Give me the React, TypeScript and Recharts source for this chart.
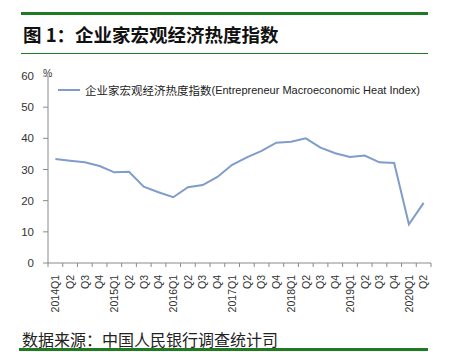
import React from 'react';
import { LineChart, Line, XAxis, YAxis, Legend } from 'recharts';

const quarters = ['2014Q1','Q2','Q3','Q4','2015Q1','Q2','Q3','Q4','2016Q1','Q2','Q3','Q4','2017Q1','Q2','Q3','Q4','2018Q1','Q2','Q3','Q4','2019Q1','Q2','Q3','Q4','2020Q1','Q2'];
const heatIndex = [33.4,32.8,32.3,31.1,29.1,29.3,24.5,22.7,21.1,24.3,25.0,27.6,31.5,33.9,36.0,38.6,38.9,40.0,37.0,35.2,34.0,34.5,32.3,32.1,12.4,19.3];
const yTicks = [0,10,20,30,40,50,60];
const seriesNameZh = '企业家宏观经济热度指数';
const seriesNameEn = '(Entrepreneur Macroeconomic Heat Index)';
const seriesName = seriesNameZh + seriesNameEn;
const titleText = '图 1：企业家宏观经济热度指数';
const sourceText = '数据来源：中国人民银行调查统计司';

const data = quarters.map((q, i) => ({ idx: i, label: q, value: heatIndex[i] }));
const xTicks: number[] = [];
for (let i = -0.5; i <= quarters.length - 0.5 + 1e-9; i += 0.5) xTicks.push(i);

const GREEN = '#1f7a22';
const AXIS = '#8a8a8a';
const LINE = '#7f9ccb';

const XTick = (props: any) => {
  const { x, y, payload } = props;
  const v = payload.value as number;
  if (Math.abs(v - Math.round(v)) > 0.1) {
    return <line x1={x} y1={y} x2={x} y2={y + 4} stroke={AXIS} strokeWidth={1} />;
  }
  const lbl = quarters[Math.round(v)];
  if (lbl === undefined) return null;
  return (
    <text
      x={x + 3.8}
      y={y + 12}
      transform={`rotate(-90, ${x + 3.8}, ${y + 12})`}
      textAnchor="end"
      fontSize={10.5}
      fontFamily="'Liberation Sans', Arial, sans-serif"
      fill="#333"
    >
      {lbl}
    </text>
  );
};

const LegendContent = () => (
  <div style={{ display: 'flex', alignItems: 'center', fontFamily: "'Liberation Sans', 'Noto Sans CJK SC', sans-serif", fontSize: 11.5, color: '#222', whiteSpace: 'nowrap' }}>
    <svg width={24} height={10} style={{ marginRight: 5 }}>
      <line x1={2} y1={5} x2={24} y2={5} stroke={LINE} strokeWidth={2} />
    </svg>
    <span>{seriesNameZh}</span>
    <span style={{ fontSize: 11 }}>{seriesNameEn}</span>
  </div>
);

export default function App() {
  return (
    <div style={{ position: 'absolute', left: 0, top: 0, width: 449, height: 352, background: '#fff', overflow: 'hidden' }}>
      <div style={{ position: 'absolute', left: 21, top: 12, width: 407, height: 3, background: GREEN }} />
      <div style={{ position: 'absolute', left: 23, top: 22, fontFamily: "'Noto Sans CJK SC', sans-serif", fontWeight: 700, fontSize: 18.5, lineHeight: '24px', color: '#111', whiteSpace: 'nowrap' }}>
        {titleText}
      </div>
      <div style={{ position: 'absolute', left: 21, top: 53, width: 407, height: 1, background: GREEN }} />
      <div style={{ position: 'absolute', left: 43, top: 67, fontFamily: "'Liberation Sans', Arial, sans-serif", fontSize: 10.5, color: '#333' }}>%</div>
      <div style={{ position: 'absolute', left: 0, top: 0 }}>
        <LineChart width={449} height={352} data={data} margin={{ top: 76, right: 18, bottom: 39, left: 8 }}>
          <XAxis
            dataKey="idx"
            type="number"
            domain={[-0.5, quarters.length - 0.5]}
            ticks={xTicks}
            interval={0}
            tick={<XTick />}
            tickLine={false}
            tickSize={0}
            tickMargin={0}
            height={50}
            axisLine={{ stroke: AXIS }}
            allowDataOverflow
          />
          <YAxis
            type="number"
            domain={[0, 60]}
            ticks={yTicks}
            interval={0}
            width={40}
            tickSize={5}
            tickMargin={9}
            axisLine={{ stroke: AXIS }}
            tickLine={{ stroke: AXIS }}
            tick={{ fontSize: 11.5, fill: '#333', fontFamily: "'Liberation Sans', Arial, sans-serif" }}
          />
          <Legend
            layout="horizontal"
            verticalAlign="middle"
            align="center"
            content={<LegendContent />}
            wrapperStyle={{ top: 82, left: 56, width: 390 }}
          />
          <Line
            type="linear"
            dataKey="value"
            name={seriesName}
            stroke={LINE}
            strokeWidth={2}
            dot={false}
            isAnimationActive={false}
          />
        </LineChart>
      </div>
      <div style={{ position: 'absolute', left: 22, top: 329, fontFamily: "'Noto Sans CJK SC', sans-serif", fontSize: 16, lineHeight: '20px', color: '#222', whiteSpace: 'nowrap' }}>
        {sourceText}
      </div>
      <div style={{ position: 'absolute', left: 19, top: 348, width: 409, height: 3, background: GREEN }} />
    </div>
  );
}
